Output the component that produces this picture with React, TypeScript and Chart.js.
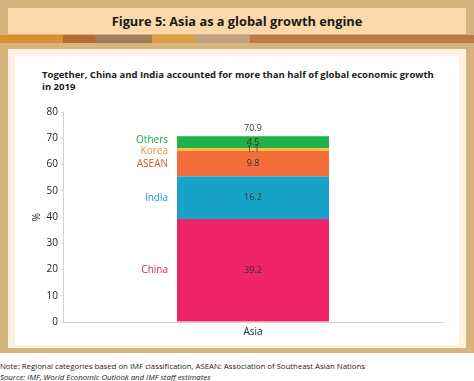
import React, { useEffect, useRef } from "react";
import { Chart, registerables } from "chart.js";

Chart.register(...registerables);

const categories = ["Asia"];
const seriesNames = ["China", "India", "ASEAN", "Korea", "Others"];
const chinaValues = [39.2];
const indiaValues = [16.2];
const aseanValues = [9.8];
const koreaValues = [1.1];
const othersValues = [4.5];
const totalValues = [70.9];
const yTicks = [0, 10, 20, 30, 40, 50, 60, 70, 80];

const barColors = ["#ee2467", "#17a3c9", "#f26d39", "#f5c431", "#21b14b"];
const nameColors = ["#e3195b", "#1a9cc8", "#e2542a", "#ee8f37", "#22a84b"];
const nameNudge = [0, 0, 0, 2, -2];

const FONT = "'Open Sans', 'Noto Sans', sans-serif";

const labelPlugin = {
  id: "stackLabels",
  afterDatasetsDraw(chart: any) {
    const ctx = chart.ctx;
    ctx.save();
    let topY = Infinity;
    let cx = 0;
    chart.data.datasets.forEach((ds: any, i: number) => {
      const meta = chart.getDatasetMeta(i);
      meta.data.forEach((bar: any, j: number) => {
        const v = ds.data[j];
        const midY = (bar.y + bar.base) / 2;
        cx = bar.x;
        topY = Math.min(topY, bar.y);
        ctx.fillStyle = "#333333";
        ctx.font = `9px ${FONT}`;
        ctx.textAlign = "center";
        ctx.textBaseline = "middle";
        ctx.fillText(v.toFixed(1), bar.x, midY);
        ctx.fillStyle = nameColors[i];
        ctx.font = `10px ${FONT}`;
        ctx.textAlign = "right";
        ctx.fillText(ds.label, bar.x - bar.width / 2 - 9, midY + nameNudge[i]);
      });
    });
    ctx.fillStyle = "#333333";
    ctx.font = `9px ${FONT}`;
    ctx.textAlign = "center";
    ctx.textBaseline = "middle";
    ctx.fillText(totalValues[0].toFixed(1), cx, topY - 8);
    ctx.restore();
  },
};

export default function App() {
  const ref = useRef<HTMLCanvasElement>(null);
  useEffect(() => {
    const seriesValues = [chinaValues, indiaValues, aseanValues, koreaValues, othersValues];
    const chart = new Chart(ref.current!, {
      type: "bar",
      data: {
        labels: categories,
        datasets: seriesNames.map((n, i) => ({
          label: n,
          data: seriesValues[i],
          backgroundColor: barColors[i],
          borderWidth: 0,
          barPercentage: 1,
          categoryPercentage: 0.4,
        })),
      },
      options: {
        responsive: false,
        animation: false,
        maintainAspectRatio: false,
        layout: { padding: { top: 17, right: 16, bottom: 0, left: 0 } },
        plugins: { legend: { display: false }, tooltip: { enabled: false }, title: { display: false } },
        scales: {
          x: {
            stacked: true,
            grid: { display: true, drawOnChartArea: false, drawTicks: false },
            border: { color: "#dcd0bb", width: 1 },
            ticks: { color: "#222", font: { family: FONT, size: 10 }, padding: 4 },
            afterFit: (s: any) => { s.height = 23; },
          },
          y: {
            stacked: true,
            min: 0,
            max: 80,
            afterBuildTicks: (s: any) => { s.ticks = yTicks.map((v) => ({ value: v })); },
            grid: { display: true, drawOnChartArea: false, drawTicks: true, tickLength: 2, color: "#e6ddd0" },
            border: { color: "#dcd0bb", width: 1 },
            ticks: { color: "#222", font: { family: FONT, size: 10 }, padding: 3 },
            title: { display: true, text: "%", color: "#222", font: { family: FONT, size: 10 }, padding: { top: 16, bottom: 0 } },
            afterFit: (s: any) => { s.width = 48; },
          },
        },
      },
      plugins: [labelPlugin],
    });
    return () => chart.destroy();
  }, []);

  const stripe = [
    ["#d98f31", 0, 63],
    ["#b86a31", 63, 95],
    ["#a07e58", 95, 152],
    ["#d9a042", 152, 195],
    ["#c2a07f", 195, 250],
    ["#bb7a46", 250, 474],
  ];

  return (
    <div style={{ position: "absolute", left: 0, top: 0, width: 474, height: 381, background: "#fff", overflow: "hidden", fontFamily: FONT }}>
      <div style={{ position: "absolute", left: 0, top: 0, width: 474, height: 353, background: "#d5b47e" }} />
      <div style={{ position: "absolute", left: 8, top: 8, width: 458, height: 26, background: "#fdd8aa", display: "flex", alignItems: "center", justifyContent: "center", fontWeight: 700, fontSize: 12.8, color: "#1a1a1a" }}>
        Figure 5: Asia as a global growth engine
      </div>
      {stripe.map(([c, a, b]) => (
        <div key={String(a)} style={{ position: "absolute", left: a as number, top: 35, width: (b as number) - (a as number), height: 8, background: c as string }} />
      ))}
      <div style={{ position: "absolute", left: 8, top: 49, width: 458, height: 299, background: "#fef1e2" }} />
      <div style={{ position: "absolute", left: 15, top: 56, width: 444, height: 289, background: "#ffffff" }} />
      <div style={{ position: "absolute", left: 42, top: 69, width: 400, fontWeight: 700, fontSize: 9.5, lineHeight: "12px", color: "#1a1a1a" }}>
        Together, China and India accounted for more than half of global economic growth in 2019
      </div>
      <canvas ref={ref} width={444} height={250} style={{ position: "absolute", left: 15, top: 95, width: 444, height: 250 }} />
      <div style={{ position: "absolute", left: 0, top: 361, fontSize: 7.8, lineHeight: "11px", color: "#222", whiteSpace: "nowrap" }}>
        <div>Note: Regional categories based on IMF classification, ASEAN: Association of Southeast Asian Nations</div>
        <div><i>Source: IMF, World Economic Outlook and IMF staff estimates</i></div>
      </div>
    </div>
  );
}
